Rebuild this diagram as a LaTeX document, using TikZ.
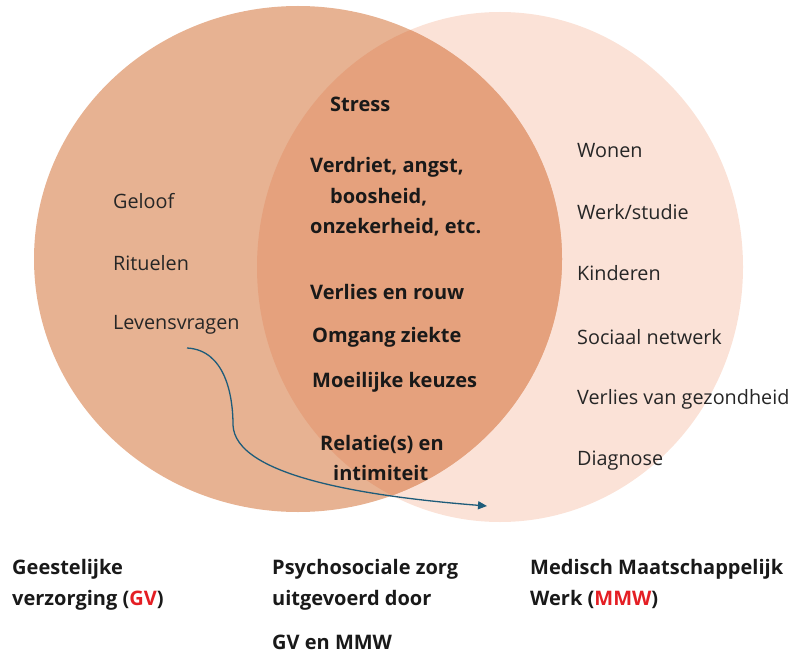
\documentclass[tikz,border=0pt]{standalone}
\usepackage{fontspec}
\setmainfont{Open Sans}
\usetikzlibrary{calc}
\usetikzlibrary{arrows.meta}

\definecolor{gvcol}{RGB}{231,178,146}
\definecolor{mmwcol}{RGB}{251,226,215}
\definecolor{samencol}{RGB}{229,161,125}
\definecolor{pijlcol}{RGB}{30,92,122}
\definecolor{roodcol}{RGB}{228,30,36}

\begin{document}
\begin{tikzpicture}[x=1pt, y=-1pt]

    \tikzset{
        item/.style={anchor=west, inner sep=0pt, font=\fontsize{19.8}{23}\selectfont, text=black!85},
        kern/.style={anchor=west, inner sep=0pt, align=left, font=\fontsize{20}{30.5}\selectfont\bfseries, text=black!90},
        label/.style={anchor=north west, inner sep=0pt, align=left, font=\fontsize{20}{31}\selectfont\bfseries, text=black!90}
    }

    \useasboundingbox (0, 0) rectangle (795, 658);

    \fill [mmwcol] (500, 267) ellipse [x radius=243, y radius=255];
    \fill [gvcol] (298, 259) ellipse [x radius=264, y radius=253];
    \begin{scope}
        \clip (500, 267) ellipse [x radius=243, y radius=255];
        \fill [samencol] (298, 259) ellipse [x radius=264, y radius=253];
    \end{scope}

    \node [item] (geloof) at (113, 201) {Geloof};
    \node [item] (rituelen) at (113, 263) {Rituelen};
    \node [item] (levensvragen) at (113, 325) {Levensvragen};

    \node [item] (wonen) at (577, 151) {Wonen};
    \node [item] (werk) at (577, 212) {Werk/studie};
    \node [item] (kinderen) at (577, 273) {Kinderen};
    \node [item] (netwerk) at (577, 337) {Sociaal netwerk};
    \node [item] (gezondheid) at (577, 399) {Verlies van gezondheid};
    \node [item] (diagnose) at (577, 461) {Diagnose};

    \node [kern] (stress) at (330, 104) {Stress};
    \node [kern] (emoties) at (310, 197) {Verdriet, angst,\\\hspace*{20pt}boosheid,\\onzekerheid, etc.};
    \node [kern] (rouw) at (310, 292) {Verlies en rouw};
    \node [kern] (ziekte) at (312, 337) {Omgang ziekte};
    \node [kern] (keuzes) at (312, 382) {Moeilijke keuzes};
    \node [kern] (relaties) at (320, 458) {Relatie(s) en\\\hspace*{13pt}intimiteit};

    \node [label] (gv) at (12, 559) {Geestelijke\\verzorging (\textcolor{roodcol}{GV})};
    \node [label] (psz) at (272, 559) {Psychosociale zorg\\uitgevoerd door\\[13pt]GV en MMW};
    \node [label] (mmw) at (530, 559) {Medisch Maatschappelijk\\Werk (\textcolor{roodcol}{MMW})};

    \coordinate (pijlbegin) at ($(levensvragen.west) + (74, 23)$);
    \coordinate (pijleind) at (487, 506);
    \draw [pijlcol, line width=1.3pt, -{Triangle[length=9pt, width=8pt]}]
        (pijlbegin) .. controls (225, 350) and (233, 395) .. (233, 425)
        .. controls (235, 475) and (360, 496) .. (pijleind);

\end{tikzpicture}
\end{document}
